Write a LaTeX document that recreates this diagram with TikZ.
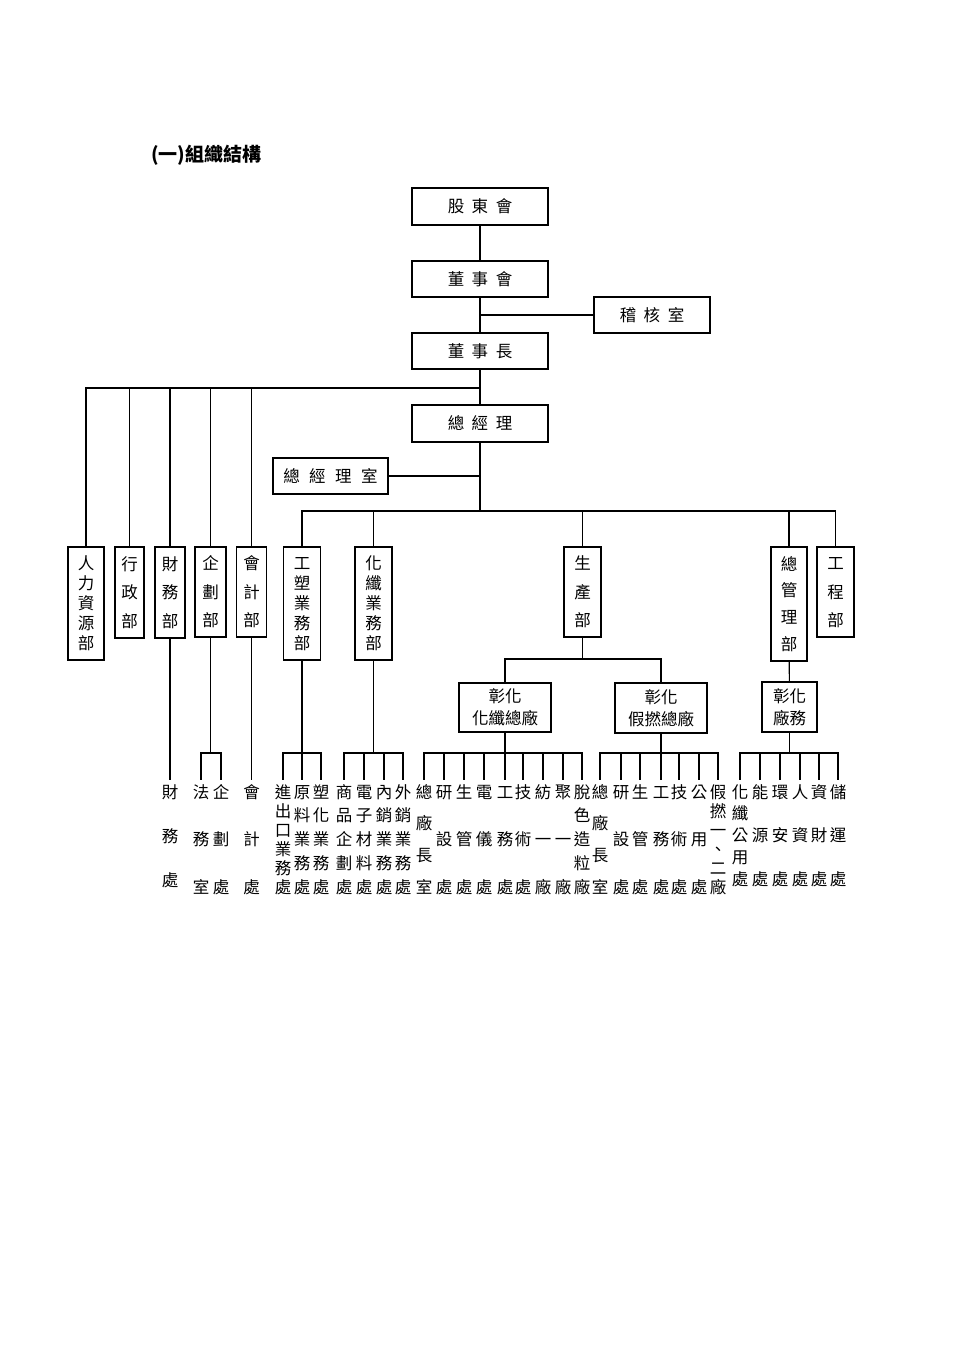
\documentclass[tikz,border=0pt]{standalone}
\usepackage{fontspec}
\newfontfamily\cjk{Noto Sans CJK TC}
\newcommand\vgap{\par\vfill}
\newcommand\vt[2]{\parbox[c][#1][s]{1.2em}{\let\V\vgap\centering\baselineskip=0pt\lineskip=0pt\lineskiplimit=0pt\everypar{\rule[-.12em]{0pt}{1em}}#2\par}}
\newcommand\leaf[4]{\node[leafnode] (#1) at (#2,783.5) {\vt{#3pt}{#4}};}
\tikzset{
  hbox/.style={draw, line width=1.3pt, inner sep=0pt, font=\cjk\fontsize{16.5pt}{22pt}\selectfont, align=center},
  vbox/.style={draw, line width=1.3pt, inner sep=0pt, font=\cjk\fontsize{16.5pt}{16.5pt}\selectfont},
  leafnode/.style={inner sep=0pt, anchor=north, font=\cjk\fontsize{16.5pt}{16.5pt}\selectfont},
  link/.style={line width=1.2pt},
  leg/.style={line width=1.2pt, shorten >=3.5pt}
}
\begin{document}
\begin{tikzpicture}[x=1pt,y=-1pt]
\fill[white] (0,0) rectangle (960,1357);
\useasboundingbox (0,0) rectangle (960,1357);

\node[anchor=west, inner sep=0pt, font=\cjk\bfseries\fontsize{19pt}{19pt}\selectfont] (title) at (151,155) {(一)組織結構};

% top chain
\node[hbox, minimum width=136pt, minimum height=37pt] (shm) at (480,206.5) {股\hspace{7.5pt}東\hspace{7.5pt}會};
\node[hbox, minimum width=136pt, minimum height=36pt] (bod) at (480,279) {董\hspace{7.5pt}事\hspace{7.5pt}會};
\node[hbox, minimum width=116pt, minimum height=36pt] (aud) at (652,315) {稽\hspace{7.5pt}核\hspace{7.5pt}室};
\node[hbox, minimum width=136pt, minimum height=36pt] (chair) at (480,351) {董\hspace{7.5pt}事\hspace{7.5pt}長};
\node[hbox, minimum width=136pt, minimum height=37pt] (gm) at (480,423.5) {總\hspace{7.5pt}經\hspace{7.5pt}理};
\node[hbox, minimum width=115pt, minimum height=36pt] (gmo) at (330.5,476) {總\hspace{9.5pt}經\hspace{9.5pt}理\hspace{9.5pt}室};

% departments
\node[vbox, minimum width=36pt, minimum height=113pt] (hr) at (86,603.5) {\vt{94.5pt}{人\V 力\V 資\V 源\V 部}};
\node[vbox, minimum width=29pt, minimum height=91pt] (adm) at (129.5,592.5) {\vt{71.5pt}{行\V 政\V 部}};
\node[vbox, minimum width=30pt, minimum height=91pt] (fin) at (170,592.5) {\vt{71.5pt}{財\V 務\V 部}};
\node[vbox, minimum width=31pt, minimum height=90pt] (plan) at (210.5,592) {\vt{71.5pt}{企\V 劃\V 部}};
\node[vbox, minimum width=30pt, minimum height=90pt] (acc) at (251.5,592) {\vt{71.5pt}{會\V 計\V 部}};
\node[vbox, minimum width=37pt, minimum height=113pt] (plas) at (302,603.5) {\vt{94.5pt}{工\V 塑\V 業\V 務\V 部}};
\node[vbox, minimum width=37pt, minimum height=113pt] (fib) at (373.5,603.5) {\vt{94.5pt}{化\V 纖\V 業\V 務\V 部}};
\node[vbox, minimum width=37pt, minimum height=90pt] (prod) at (582.5,592) {\vt{71.5pt}{生\V 產\V 部}};
\node[vbox, minimum width=36pt, minimum height=114pt] (ahq) at (789,604) {\vt{94.5pt}{總\V 管\V 理\V 部}};
\node[vbox, minimum width=37pt, minimum height=90pt] (eng) at (835.5,592) {\vt{71.5pt}{工\V 程\V 部}};

% factories
\node[hbox, minimum width=92pt, minimum height=49pt] (f1) at (505,707.5) {彰化\\化纖總廠};
\node[hbox, minimum width=92pt, minimum height=50pt] (f2) at (661,708) {彰化\\假撚總廠};
\node[hbox, minimum width=55pt, minimum height=50pt] (f3) at (789.5,707) {彰化\\廠務};

% leaves
\leaf{l1}{170}{102.5}{財\V 務\V 處}
\leaf{l2}{201}{109.5}{法\V 務\V 室}
\leaf{l3}{221}{109.5}{企\V 劃\V 處}
\leaf{l4}{251.5}{109.5}{會\V 計\V 處}
\leaf{l5}{283}{109.5}{進\V 出\V 口\V 業\V 務\V 處}
\leaf{l6}{302}{109.5}{原\V 料\V 業\V 務\V 處}
\leaf{l7}{321}{109.5}{塑\V 化\V 業\V 務\V 處}
\leaf{l8}{344}{109.5}{商\V 品\V 企\V 劃\V 處}
\leaf{l9}{364}{109.5}{電\V 子\V 材\V 料\V 處}
\leaf{l10}{384}{109.5}{內\V 銷\V 業\V 務\V 處}
\leaf{l11}{403}{109.5}{外\V 銷\V 業\V 務\V 處}
\leaf{m1}{424}{109.5}{總\V 廠\V 長\V 室}
\leaf{m2}{444}{109.5}{研\V 設\V 處}
\leaf{m3}{464}{109.5}{生\V 管\V 處}
\leaf{m4}{484}{109.5}{電\V 儀\V 處}
\leaf{m5}{505}{109.5}{工\V 務\V 處}
\leaf{m6}{523}{109.5}{技\V 術\V 處}
\leaf{m7}{543}{109.5}{紡\V 一\V 廠}
\leaf{m8}{563}{109.5}{聚\V 一\V 廠}
\leaf{m9}{582}{109.5}{脫\V 色\V 造\V 粒\V 廠}
\leaf{n1}{600}{109.5}{總\V 廠\V 長\V 室}
\leaf{n2}{621}{109.5}{研\V 設\V 處}
\leaf{n3}{640}{109.5}{生\V 管\V 處}
\leaf{n4}{661}{109.5}{工\V 務\V 處}
\leaf{n5}{679}{109.5}{技\V 術\V 處}
\leaf{n6}{699}{109.5}{公\V 用\V 處}
\leaf{n7}{718}{109.5}{假\V 撚\V 一\V 、\V 二\V 廠}
\leaf{p1}{740}{101.5}{化\V 纖\V 公\V 用\V 處}
\leaf{p2}{760}{101.5}{能\V 源\V 處}
\leaf{p3}{780}{101.5}{環\V 安\V 處}
\leaf{p4}{800}{101.5}{人\V 資\V 處}
\leaf{p5}{819}{101.5}{資\V 財\V 處}
\leaf{p6}{838}{101.5}{儲\V 運\V 處}

% connectors
\draw[link] (shm) -- (bod);
\draw[link] (bod) -- (chair);
\draw[link] (chair) -- (gm);
\draw[link] (aud.west) -- (aud.west -| bod.south);
\coordinate (lb) at (480,388);
\foreach \n in {hr,adm,fin,plan,acc} \draw[link] (lb) -| (\n.north);
\draw[link] (gmo.east) -- (gmo.east -| gm.south);
\coordinate (mb) at (480,511);
\draw[link] (gm) -- (mb);
\foreach \n in {plas,fib,prod,ahq,eng} \draw[link] (mb) -| (\n.north);
\coordinate (pb) at (582.5,659);
\draw[link] (prod) -- (pb);
\draw[link] (pb) -| (f1.north);
\draw[link] (pb) -| (f2.north);
\draw[link] (ahq) -- (f3);

\draw[leg] (fin) -- (l1.north);
\draw[leg] (acc) -- (l4.north);
\coordinate (b1) at (210.5,753);
\draw[link] (plan) -- (b1);
\foreach \n in {l2,l3} \draw[leg] (b1) -| (\n.north);
\coordinate (b2) at (302,753);
\draw[link] (plas) -- (b2);
\foreach \n in {l5,l6,l7} \draw[leg] (b2) -| (\n.north);
\coordinate (b3) at (373.5,753);
\draw[link] (fib) -- (b3);
\foreach \n in {l8,l9,l10,l11} \draw[leg] (b3) -| (\n.north);
\coordinate (b4) at (505,753);
\draw[link] (f1) -- (b4);
\foreach \n in {m1,m2,m3,m4,m5,m6,m7,m8,m9} \draw[leg] (b4) -| (\n.north);
\coordinate (b5) at (661,753);
\draw[link] (f2) -- (b5);
\foreach \n in {n1,n2,n3,n4,n5,n6,n7} \draw[leg] (b5) -| (\n.north);
\coordinate (b6) at (789.5,753);
\draw[link] (f3) -- (b6);
\foreach \n in {p1,p2,p3,p4,p5,p6} \draw[leg] (b6) -| (\n.north);
\end{tikzpicture}
\end{document}
